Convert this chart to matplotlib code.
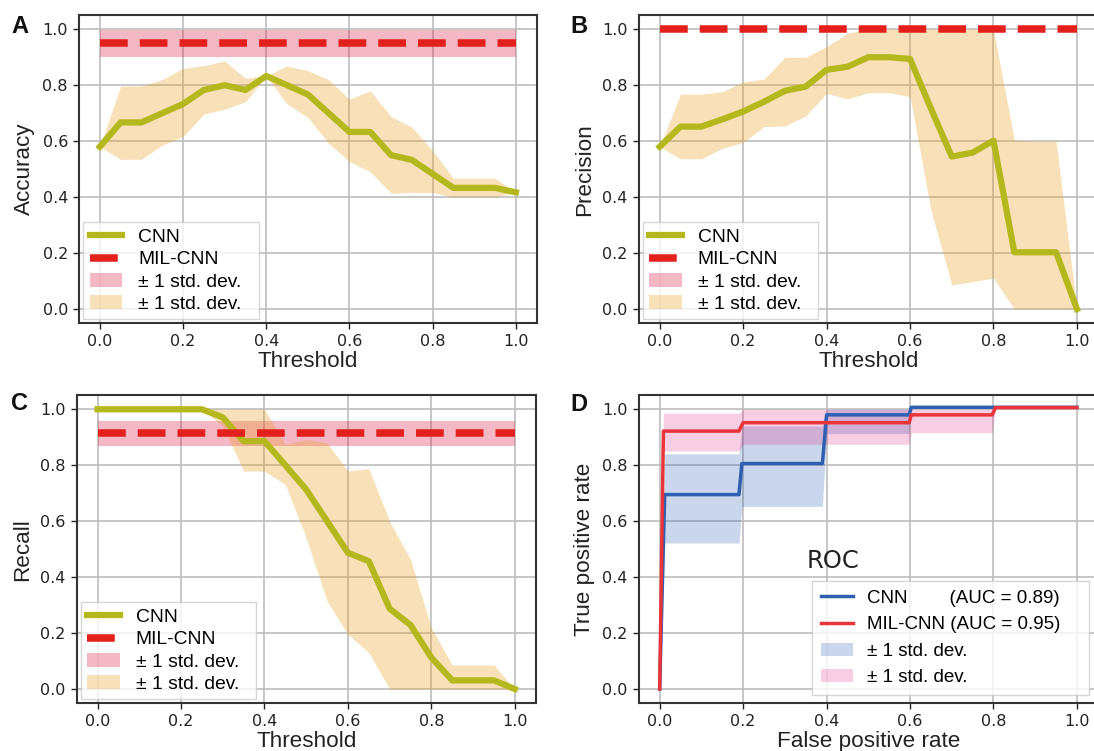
import numpy as np
import matplotlib
matplotlib.use("Agg")
import matplotlib.pyplot as plt
from matplotlib.patches import Patch

# ---------------- data ----------------
thresholds = [0.0, 0.05, 0.1, 0.15, 0.2, 0.25, 0.3, 0.35, 0.4, 0.45, 0.5,
              0.55, 0.6, 0.65, 0.7, 0.75, 0.8, 0.85, 0.9, 0.95, 1.0]

acc_cnn = [0.58, 0.667, 0.667, 0.70, 0.733, 0.783, 0.80, 0.783, 0.833, 0.80, 0.767,
           0.70, 0.633, 0.633, 0.55, 0.533, 0.483, 0.433, 0.433, 0.433, 0.417]
acc_cnn_hi = [0.58, 0.797, 0.797, 0.82, 0.86, 0.87, 0.887, 0.825, 0.833, 0.869, 0.852,
              0.82, 0.75, 0.78, 0.688, 0.65, 0.566, 0.467, 0.467, 0.467, 0.417]
acc_cnn_lo = [0.58, 0.535, 0.535, 0.586, 0.616, 0.697, 0.714, 0.741, 0.833, 0.733, 0.685,
              0.592, 0.527, 0.491, 0.414, 0.417, 0.417, 0.40, 0.40, 0.40, 0.417]
acc_mil, acc_mil_std = 0.95, 0.048

prec_cnn = [0.58, 0.652, 0.652, 0.678, 0.706, 0.741, 0.78, 0.795, 0.855, 0.866, 0.90,
            0.90, 0.894, 0.717, 0.545, 0.559, 0.602, 0.203, 0.203, 0.203, 0.0]
prec_cnn_hi = [0.58, 0.768, 0.768, 0.777, 0.812, 0.822, 0.90, 0.90, 0.938, 0.986, 1.0,
               1.0, 1.0, 1.0, 1.0, 1.0, 1.0, 0.604, 0.60, 0.60, 0.0]
prec_cnn_lo = [0.58, 0.537, 0.537, 0.574, 0.595, 0.652, 0.654, 0.69, 0.771, 0.751, 0.773,
               0.773, 0.759, 0.354, 0.086, 0.098, 0.11, 0.0, 0.0, 0.0, 0.0]
prec_mil, prec_mil_std = 1.0, 0.0

rec_cnn = [1.0, 1.0, 1.0, 1.0, 1.0, 1.0, 0.971, 0.886, 0.886, 0.80, 0.713,
           0.60, 0.487, 0.457, 0.287, 0.229, 0.112, 0.031, 0.031, 0.031, 0.0]
rec_cnn_hi = [1.0, 1.0, 1.0, 1.0, 1.0, 1.0, 1.0, 1.0, 1.0, 0.874, 0.892,
              0.88, 0.779, 0.788, 0.60, 0.463, 0.219, 0.086, 0.086, 0.086, 0.0]
rec_cnn_lo = [1.0, 1.0, 1.0, 1.0, 1.0, 1.0, 0.94, 0.779, 0.779, 0.731, 0.54,
              0.314, 0.195, 0.13, 0.0, 0.0, 0.0, 0.0, 0.0, 0.0, 0.0]
rec_mil, rec_mil_std = 0.914, 0.045

roc_fpr_cnn = [0.0, 0.012, 0.19, 0.197, 0.39, 0.40, 0.598, 0.603, 1.0]
roc_tpr_cnn = [0.0, 0.695, 0.695, 0.806, 0.806, 0.98, 0.98, 1.007, 1.007]
roc_cnn_hi = [0.0, 0.841, 0.841, 0.94, 0.94, 1.0, 1.0, 1.007, 1.007]
roc_cnn_lo = [0.0, 0.522, 0.522, 0.653, 0.653, 0.913, 0.913, 1.007, 1.007]

roc_fpr_mil = [0.0, 0.009, 0.19, 0.20, 0.598, 0.603, 0.797, 0.805, 1.0]
roc_tpr_mil = [0.0, 0.922, 0.922, 0.952, 0.952, 0.98, 0.98, 1.006, 1.006]
roc_mil_hi = [0.0, 0.986, 0.986, 1.0, 1.0, 1.0, 1.0, 1.006, 1.006]
roc_mil_lo = [0.0, 0.851, 0.851, 0.875, 0.875, 0.916, 0.916, 1.006, 1.006]

auc_cnn, auc_mil = 0.89, 0.95
ticks = [0.0, 0.2, 0.4, 0.6, 0.8, 1.0]

# ---------------- style ----------------
plt.rcParams['font.family'] = ['DejaVu Sans']
LBL = ['Liberation Sans', 'DejaVu Sans']
C_CNN = '#b5b81c'
C_MIL = '#e3201b'
C_ORANGE = '#eb9a1a'
C_PINK = 'crimson'
C_BLUE_R = '#2f5fb0'
C_RED_R = '#e8343a'
C_PINK_R = '#df237b'

fig = plt.figure(figsize=(10.94, 7.51), dpi=100)
W, H = 1094.0, 751.0


def make_ax(left_px, top_px, width_px=459.0, height_px=308.3):
    return fig.add_axes([left_px / W, 1 - (top_px + height_px) / H, width_px / W, height_px / H])


def style(ax, xlabel, ylabel):
    ax.set_xlim(-0.05, 1.05)
    ax.set_ylim(-0.051, 1.051)
    ax.set_xticks(ticks)
    ax.set_yticks(ticks)
    ax.set_xticklabels([f"{t:.1f}" for t in ticks])
    ax.set_yticklabels([f"{t:.1f}" for t in ticks])
    ax.tick_params(labelsize=11.5, colors='#222222', width=1.0, length=4.5)
    ax.grid(True, color='#bdbdbd', linewidth=1.2)
    ax.set_axisbelow(True)
    for s in ax.spines.values():
        s.set_linewidth(1.5)
        s.set_color('#333333')
    ax.set_xlabel(xlabel, fontsize=16.2, family=LBL, color='#222222', labelpad=1)
    ax.set_ylabel(ylabel, fontsize=16.2, family=LBL, color='#222222', labelpad=5)


def metric_panel(ax, cnn, lo, hi, mil, mil_std, ylabel):
    x = np.array(thresholds)
    pink = ax.fill_between([x[0], x[-1]], mil - mil_std, mil + mil_std, color=C_PINK,
                           alpha=0.3, linewidth=0)
    orange = ax.fill_between(x, lo, hi, color=C_ORANGE, alpha=0.3, linewidth=0)
    l1, = ax.plot(x, cnn, color=C_CNN, linewidth=4.5)
    l2, = ax.plot([x[0], x[-1]], [mil, mil], color=C_MIL, linewidth=5.4, linestyle='--')
    style(ax, 'Threshold', ylabel)
    ax.legend([l1, l2, pink, orange],
              ['CNN', 'MIL-CNN', '± 1 std. dev.  ', '± 1 std. dev.  '],
              loc='lower left', prop={'family': LBL, 'size': 13.9},
              labelspacing=0.24, borderaxespad=0.2, handlelength=1.7,
              handletextpad=0.8, borderpad=0.35, fancybox=False, edgecolor='#cccccc')


axA = make_ax(79, 15, 457.7)
metric_panel(axA, acc_cnn, acc_cnn_lo, acc_cnn_hi, acc_mil, acc_mil_std, 'Accuracy')

axB = make_ax(638.8, 15)
metric_panel(axB, prec_cnn, prec_cnn_lo, prec_cnn_hi, prec_mil, prec_mil_std, 'Precision')

axC = make_ax(76.7, 395)
metric_panel(axC, rec_cnn, rec_cnn_lo, rec_cnn_hi, rec_mil, rec_mil_std, 'Recall')

axD = make_ax(638.8, 395)
axD.fill_between(roc_fpr_cnn, roc_cnn_lo, roc_cnn_hi, color=C_BLUE_R, alpha=0.25, linewidth=0)
axD.fill_between(roc_fpr_mil, roc_mil_lo, roc_mil_hi, color=C_PINK_R, alpha=0.22, linewidth=0)
lc, = axD.plot(roc_fpr_cnn, roc_tpr_cnn, color=C_BLUE_R, linewidth=2.5)
lm, = axD.plot(roc_fpr_mil, roc_tpr_mil, color=C_RED_R, linewidth=2.5)
style(axD, 'False positive rate', 'True positive rate')
hb = Patch(facecolor=C_BLUE_R, alpha=0.25, linewidth=0)
hp = Patch(facecolor=C_PINK_R, alpha=0.22, linewidth=0)
axD.legend([lc, lm, hb, hp],
           [f'CNN        (AUC = {auc_cnn:.2f})', f'MIL-CNN (AUC = {auc_mil:.2f})    ',
            '± 1 std. dev.', '± 1 std. dev.'],
           loc='lower right', prop={'family': LBL, 'size': 13.5}, fancybox=False,
           edgecolor='#cccccc', borderaxespad=0.45, handlelength=1.75,
           handletextpad=0.7, labelspacing=0.5, borderpad=0.45)
axD.text(0.366, 0.44, 'ROC', transform=axD.transAxes, fontsize=17.5, color='#222222',
         ha='left', va='baseline')

# panel letters
for letter, xp, yp in [('A', 11, 33), ('B', 570, 33), ('C', 11, 410), ('D', 570, 411)]:
    fig.text(xp / W, 1 - yp / H, letter, fontsize=17, fontweight='bold', family=LBL,
             ha='left', va='baseline', color='#111111')

fig.savefig('out.png', dpi=100)
